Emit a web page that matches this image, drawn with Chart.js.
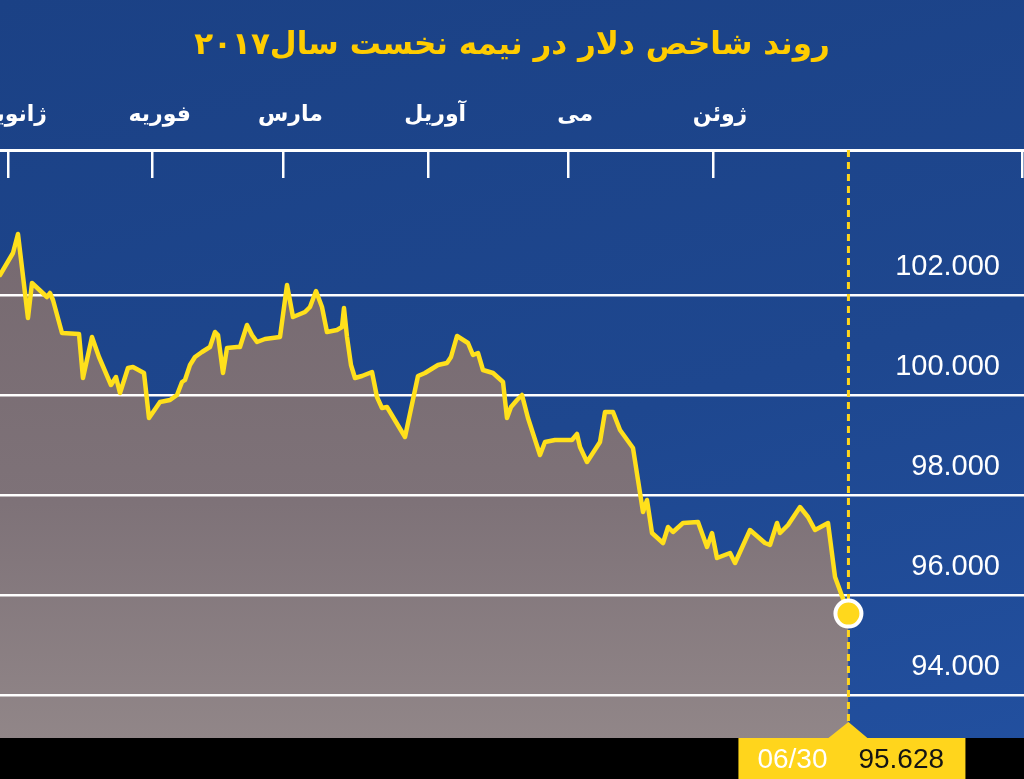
<!DOCTYPE html>
<html><head><meta charset="utf-8">
<script src="https://cdn.jsdelivr.net/npm/chart.js@4.4.1/dist/chart.umd.min.js"></script>
<style>
html,body{margin:0;padding:0;width:1024px;height:779px;overflow:hidden;background:#000;}
#wrap{position:relative;width:1024px;height:779px;background:linear-gradient(165deg,#1b4185 0%,#1e478f 55%,#2250a0 100%);}
#strip{position:absolute;left:0;right:0;bottom:0;height:41px;background:#000;}
canvas{position:absolute;left:0;top:0;}
</style></head><body>
<div id="wrap"><div id="strip"></div><canvas id="c" width="1024" height="779"></canvas></div>
<script>
const titleText = 'روند شاخص دلار در نیمه نخست سال۲۰۱۷';
const monthLabels = ['ژانویه','فوریه','مارس','آوریل','می','ژوئن'];
const monthStartDays = [0,31,59,90,120,151];
const yTickValues = [94,96,98,100,102];
const lastDateLabel = '06/30';
const lastValueLabel = '95.628';
// days since Jan 1, 2017
const dayValues = [-1.71,1.07,2.14,4.28,5.14,8.35,8.99,9.64,11.57,15.21,
16.06,17.99,19.49,22.06,23.13,23.99,25.70,26.77,29.13,30.20,
32.56,34.70,36.20,37.27,37.91,38.98,40.05,41.55,43.26,44.34,
44.98,46.05,46.91,49.05,49.69,51.19,52.26,53.33,55.04,58.26,
59.76,61.04,63.61,64.68,65.97,67.25,68.32,70.46,71.54,71.96,
72.61,73.46,74.32,75.82,77.96,79.03,80.10,81.17,85.03,87.81,
89.31,92.10,94.02,94.88,96.17,98.52,99.59,100.66,101.73,103.88,
106.02,106.87,107.73,109.02,110.09,111.37,113.94,115.01,117.15,120.79,
121.87,122.51,124.01,126.79,127.86,129.58,131.08,133.86,134.93,136.00,
136.86,137.93,140.29,141.36,142.43,144.57,147.78,149.71,150.78,151.85,
154.64,155.71,158.92,162.13,163.20,164.70,165.35,167.06,169.63,171.34,
172.84,175.63,177.13,180];
const dxyValues = [102.40,102.84,103.22,101.54,102.24,101.96,102.04,101.90,101.24,101.22,
100.34,101.16,100.76,100.20,100.36,100.04,100.54,100.56,100.44,99.54,
99.86,99.90,100.00,100.26,100.30,100.60,100.76,100.86,100.96,101.26,
101.20,100.44,100.94,100.96,100.96,101.40,101.20,101.06,101.12,101.16,
102.20,101.56,101.66,101.76,102.08,101.76,101.26,101.30,101.36,101.74,
101.16,100.60,100.34,100.38,100.46,99.96,99.74,99.76,99.16,100.38,
100.44,100.60,100.64,100.76,101.18,101.04,100.80,100.84,100.50,100.44,
100.26,99.54,99.76,99.90,100.00,99.54,98.80,99.06,99.10,99.10,
99.22,98.96,98.66,99.06,99.66,99.66,99.30,98.94,98.30,97.66,
97.90,97.24,97.04,97.36,97.26,97.44,97.46,96.96,97.24,96.74,
96.84,96.64,97.30,97.04,97.00,97.44,97.24,97.40,97.76,97.56,
97.30,97.44,96.36,95.628];

const X_MIN = -1.71, X_MAX = 217.6, Y_MIN = 93.14, Y_MAX = 104.9;
const EDGE_TICK = 217.2;
const TITLE_SIZE = 31, TITLE_PAD_TOP = 27;
const TITLE_H = TITLE_PAD_TOP + TITLE_SIZE * 1.2;
const AXIS_TOP = 150;

const points = dayValues.map((d, i) => ({x: d, y: dxyValues[i]}));
const lastIdx = points.length - 1;
const lastDay = dayValues[lastIdx];

const footLabel = {
  id: 'footLabel',
  afterDraw(chart) {
    const {ctx, chartArea: a, scales: {x}} = chart;
    const px = x.getPixelForValue(lastDay);
    const top = a.bottom, bot = chart.height;
    ctx.save();
    ctx.fillStyle = '#ffd51c';
    ctx.beginPath();
    ctx.moveTo(px - 110, top);
    ctx.lineTo(px - 20, top);
    ctx.lineTo(px, top - 16);
    ctx.lineTo(px + 19, top);
    ctx.lineTo(px + 117, top);
    ctx.lineTo(px + 117, bot);
    ctx.lineTo(px - 110, bot);
    ctx.closePath();
    ctx.fill();
    ctx.font = '28px "Liberation Sans", Arial, sans-serif';
    ctx.textBaseline = 'middle';
    ctx.textAlign = 'left';
    const cy = (top + bot) / 2 + 2;
    ctx.fillStyle = '#ffffff';
    ctx.fillText(lastDateLabel, px - 91, cy);
    ctx.fillStyle = '#141414';
    ctx.fillText(lastValueLabel, px + 10, cy);
    ctx.restore();
  }
};

new Chart(document.getElementById('c'), {
  type: 'line',
  data: {
    datasets: [
      {
        data: points,
        borderColor: '#ffe01c',
        borderWidth: 4.5,
        borderJoinStyle: 'round',
        borderCapStyle: 'round',
        tension: 0,
        fill: 'start',
        backgroundColor: (c) => {
          const chart = c.chart; const a = chart.chartArea;
          if (!a) return '#7b6f75';
          const g = chart.ctx.createLinearGradient(0, a.top, 0, a.bottom);
          g.addColorStop(0, '#74676e');
          g.addColorStop(0.6, '#7e7278');
          g.addColorStop(1, '#918688');
          return g;
        },
        pointRadius: (c) => c.dataIndex === lastIdx ? 13 : 0,
        pointHoverRadius: (c) => c.dataIndex === lastIdx ? 13 : 0,
        pointBackgroundColor: '#ffd81c',
        pointBorderColor: '#ffffff',
        pointBorderWidth: 4,
        order: 0
      },
      {
        data: [{x: lastDay, y: Y_MAX}, {x: lastDay, y: Y_MIN}],
        borderColor: '#ffd51c',
        borderWidth: 3,
        borderDash: [7, 5],
        pointRadius: 0,
        fill: false,
        order: 1
      }
    ]
  },
  options: {
    responsive: false,
    animation: false,
    events: [],
    layout: {padding: {left: 0, right: 0, top: 0, bottom: 41}, autoPadding: false},
    plugins: {
      legend: {display: false},
      tooltip: {enabled: false},
      filler: {drawTime: 'beforeDraw'},
      title: {
        display: true,
        text: titleText,
        color: '#ffcc00',
        font: {family: '"DejaVu Sans", sans-serif', size: TITLE_SIZE, weight: 'bold', lineHeight: 1.2},
        padding: {top: TITLE_PAD_TOP, bottom: 0}
      }
    },
    scales: {
      x: {
        type: 'linear', position: 'top', min: X_MIN, max: X_MAX,
        afterBuildTicks: (s) => { s.ticks = monthStartDays.map(v => ({value: v})).concat([{value: EDGE_TICK}]); },
        afterFit: (s) => { s.height = AXIS_TOP - TITLE_H; s.paddingLeft = 0; s.paddingRight = 0; },
        border: {display: true, color: '#ffffff', width: 3},
        grid: {drawOnChartArea: false, drawTicks: true, tickLength: -28, color: '#ffffff', lineWidth: 2.5},
        ticks: {
          color: '#ffffff', padding: 50, labelOffset: 7, autoSkip: false, maxRotation: 0, minRotation: 0,
          font: {family: '"DejaVu Sans", sans-serif', size: 22, weight: 'bold', lineHeight: 1.2},
          callback: (v) => { const k = monthStartDays.indexOf(v); return k >= 0 ? monthLabels[k] : ''; }
        }
      },
      y: {
        type: 'linear', position: 'right', min: Y_MIN, max: Y_MAX,
        afterBuildTicks: (s) => { s.ticks = yTickValues.map(v => ({value: v})); },
        afterFit: (s) => { s.width = 0; s.paddingTop = 0; s.paddingBottom = 0; },
        border: {display: false},
        grid: {color: '#ffffff', lineWidth: 2.5, drawTicks: false},
        ticks: {
          mirror: true, padding: -24, labelOffset: -28, color: '#ffffff',
          font: {family: '"Liberation Sans", Arial, sans-serif', size: 29},
          callback: (v) => Number(v).toFixed(3)
        }
      }
    }
  },
  plugins: [footLabel]
});
</script>
</body></html>
